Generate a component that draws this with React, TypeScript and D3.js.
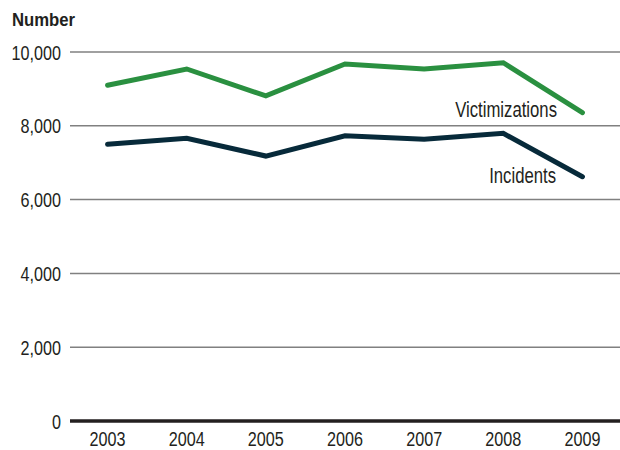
import React, { useEffect, useRef } from 'react';
import * as d3 from 'd3';

const years = ['2003', '2004', '2005', '2006', '2007', '2008', '2009'];
const victimizations = [9100, 9540, 8810, 9675, 9540, 9710, 8355];
const incidents = [7500, 7660, 7180, 7730, 7635, 7795, 6620];
const yTicks = [0, 2000, 4000, 6000, 8000, 10000];

const App: React.FC = () => {
  const svgRef = useRef<SVGSVGElement | null>(null);

  useEffect(() => {
    if (!svgRef.current) return;

    const width = 620;
    const height = 450;
    const font = '"Liberation Sans", Arial, sans-serif';
    const textColor = '#231f20';
    const squeeze = 0.77; // condensed look

    const xScale = d3.scalePoint<string>().domain(years).range([68, 622]).padding(0.5);
    const yScale = d3.scaleLinear().domain([0, 10000]).range([421, 52]);

    const svg = d3.select(svgRef.current);
    svg.selectAll('*').remove();

    svg.append('rect').attr('width', width).attr('height', height).attr('fill', '#ffffff');

    // Gridlines
    svg
      .append('g')
      .selectAll('line')
      .data(yTicks.filter((t) => t > 0))
      .enter()
      .append('line')
      .attr('x1', 70)
      .attr('x2', 620)
      .attr('y1', (d) => yScale(d))
      .attr('y2', (d) => yScale(d))
      .attr('stroke', '#808080')
      .attr('stroke-width', 1.5);

    // Baseline
    svg
      .append('line')
      .attr('x1', 70)
      .attr('x2', 620)
      .attr('y1', yScale(0))
      .attr('y2', yScale(0))
      .attr('stroke', textColor)
      .attr('stroke-width', 3.5);

    // Y tick labels
    svg
      .append('g')
      .selectAll('text')
      .data(yTicks)
      .enter()
      .append('text')
      .attr('transform', (d) => `translate(61,${yScale(d) + 7.5}) scale(${squeeze},1)`)
      .attr('text-anchor', 'end')
      .attr('font-family', font)
      .attr('font-size', 21)
      .attr('fill', textColor)
      .text((d) => d3.format(',')(d));

    // X tick labels
    svg
      .append('g')
      .selectAll('text')
      .data(years)
      .enter()
      .append('text')
      .attr('transform', (d) => `translate(${xScale(d)},446) scale(${squeeze},1)`)
      .attr('text-anchor', 'middle')
      .attr('font-family', font)
      .attr('font-size', 21)
      .attr('fill', textColor)
      .text((d) => d);

    // Axis title
    svg
      .append('text')
      .attr('transform', 'translate(12,26) scale(0.88,1)')
      .attr('font-family', font)
      .attr('font-weight', 'bold')
      .attr('font-size', 19)
      .attr('fill', textColor)
      .text('Number');

    const line = d3
      .line<number>()
      .x((_, i) => xScale(years[i]) as number)
      .y((d) => yScale(d));

    svg
      .append('path')
      .datum(victimizations)
      .attr('d', line)
      .attr('fill', 'none')
      .attr('stroke', '#2a9040')
      .attr('stroke-width', 5)
      .attr('stroke-linejoin', 'miter')
      .attr('stroke-linecap', 'round');

    svg
      .append('path')
      .datum(incidents)
      .attr('d', line)
      .attr('fill', 'none')
      .attr('stroke', '#072a3a')
      .attr('stroke-width', 5)
      .attr('stroke-linejoin', 'miter')
      .attr('stroke-linecap', 'round');

    // Series labels
    svg
      .append('text')
      .attr('transform', `translate(557,117) scale(0.76,1)`)
      .attr('text-anchor', 'end')
      .attr('font-family', font)
      .attr('font-size', 22)
      .attr('fill', textColor)
      .text('Victimizations');

    svg
      .append('text')
      .attr('transform', `translate(556,183) scale(0.76,1)`)
      .attr('text-anchor', 'end')
      .attr('font-family', font)
      .attr('font-size', 22)
      .attr('fill', textColor)
      .text('Incidents');
  }, []);

  return (
    <svg
      ref={svgRef}
      width={620}
      height={450}
      style={{ position: 'absolute', left: 0, top: 0 }}
    />
  );
};

export default App;
